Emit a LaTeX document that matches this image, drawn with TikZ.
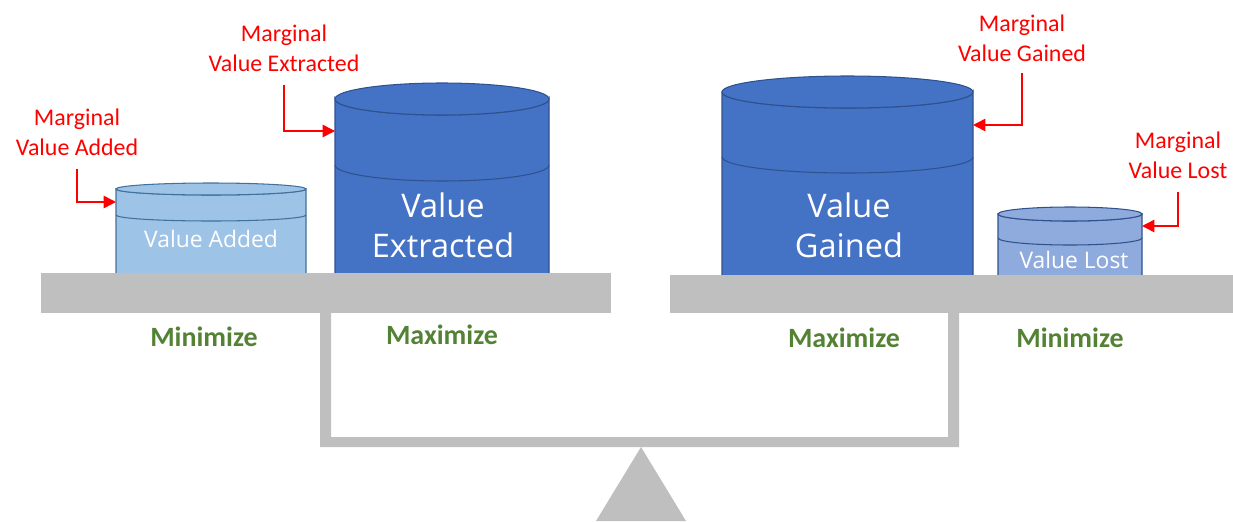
\documentclass[tikz,border=0pt]{standalone}
\usepackage{fontspec}
\setmainfont{Carlito}
\newfontfamily\handfont{Open Sans}
\usetikzlibrary{arrows.meta, positioning}
\definecolor{beamgray}{HTML}{BFBFBF}
\definecolor{paleblue}{HTML}{9DC3E6}
\definecolor{midblue}{HTML}{4472C4}
\definecolor{softblue}{HTML}{8FAADC}
\definecolor{rimblue}{HTML}{2F528F}
\definecolor{rimpale}{HTML}{41719C}
\definecolor{goalgreen}{HTML}{548235}

\begin{document}
\begin{tikzpicture}[x=0.02cm,y=-0.02cm,
 note/.style={text=red,align=center,font=\fontsize{13.6}{17}\selectfont},
 goal/.style={text=goalgreen,font=\bfseries\fontsize{15.9}{18}\selectfont},
 tag/.style={text=white,align=center,font=\handfont\fontsize{18.5}{22.7}\selectfont},
 small tag/.style={text=white,font=\handfont\fontsize{13}{15}\selectfont},
 pointer/.style={draw=red,line width=0.85pt,-{Triangle[length=7pt,width=7pt]}},
 beam/.style={fill=beamgray}]

  \useasboundingbox (0,0) rectangle (1233,521);

  % tanks: centre x / half width / top / top radius / band / fill / rim
  \foreach \cx/\w/\ty/\ry/\band/\col/\rim in {211/95/189/6/215/paleblue/rimpale,
      442/107/99/16/165/midblue/rimblue, 847.5/125.5/92/16/157/midblue/rimblue,
      1070/72/214/7/238/softblue/rimblue} {
    \filldraw[fill=\col,draw=\rim,line width=0.6pt] (\cx-\w,\ty)
      [rounded corners=4pt] -- (\cx-\w,282) -- (\cx+\w,282) [sharp corners] -- (\cx+\w,\ty)
      arc[start angle=0,end angle=-180,x radius=\w*0.02cm,y radius=\ry*0.02cm] -- cycle;
    \draw[fill=\col,draw=\rim,line width=0.6pt] (\cx,\ty) ellipse[x radius=\w*0.02cm,y radius=\ry*0.02cm];
    \draw[draw=\rim,line width=0.6pt] (\cx-\w,\band)
      arc[start angle=180,end angle=360,x radius=\w*0.02cm,y radius=\ry*0.02cm];
  }

  \node[small tag] (added) at (211,239) {Value Added};
  \node[tag] (extracted) at (443,225) {Value\\Extracted};
  \node[tag] (gained) at (849,225) {Value\\Gained};
  \node[small tag] (lost) at (1074,260) {Value Lost};

  % seesaw
  \fill[beam] (41,273) rectangle (611,313);
  \fill[beam] (670,275) rectangle (1233,313);
  \fill[beam] (320,313) -- (320,447) -- (959,447) -- (959,313) -- (948,313)
    -- (948,437) -- (331,437) -- (331,313) -- cycle;
  \fill[beam] (641,447) -- (686,521) -- (596,521) -- cycle;

  \node[goal] (minleft) at (204,337) {Minimize};
  \node[goal] (maxleft) at (442,335) {Maximize};
  \node[goal] (maxright) at (844,338) {Maximize};
  \node[goal] (minright) at (1070,338) {Minimize};

  % marginal notes
  \node[note] (madded) at (77,132) {Marginal\\Value Added};
  \node[note] (mextracted) at (284,48) {Marginal\\Value Extracted};
  \node[note] (mgained) at (1022,38) {Marginal\\Value Gained};
  \node[note] (mlost) at (1178,155) {Marginal\\Value Lost};

  \coordinate (tadded) at (116,202);
  \coordinate (textracted) at (335,131);
  \coordinate (tgained) at (973,125);
  \coordinate (tlost) at (1142,226);

  \draw[pointer,shorten <=4pt] (madded.south) |- (tadded);
  \draw[pointer,shorten <=4pt] (mextracted.south) |- (textracted);
  \draw[pointer,shorten <=3pt] (mgained.south) |- (tgained);
  \draw[pointer,shorten <=4pt] (mlost.south) |- (tlost);

\end{tikzpicture}
\end{document}
